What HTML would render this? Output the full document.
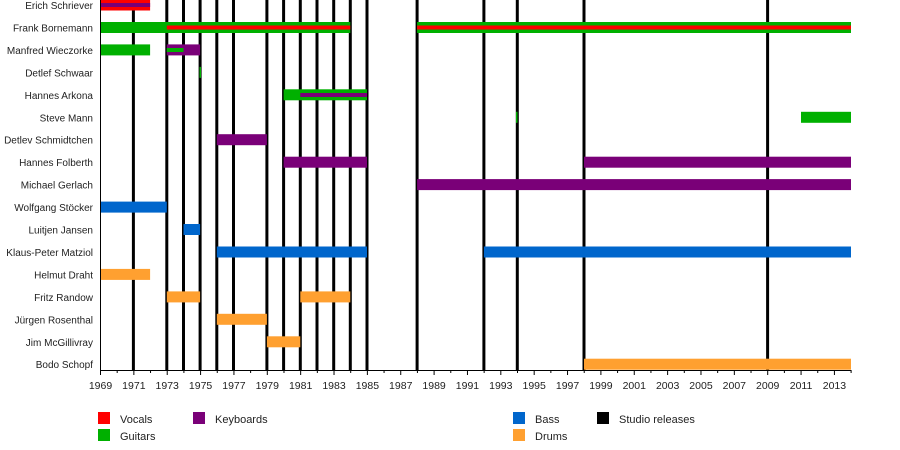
<!DOCTYPE html>
<html><head><meta charset="utf-8"><style>body{margin:0;background:#fff}svg{display:block;font-family:"Liberation Sans",sans-serif}</style></head><body>
<svg width="900" height="450" xmlns="http://www.w3.org/2000/svg">
<g stroke="#000" stroke-width="3">
<line x1="133.4" y1="0" x2="133.4" y2="370"/><line x1="166.8" y1="0" x2="166.8" y2="370"/><line x1="183.5" y1="0" x2="183.5" y2="370"/><line x1="200.1" y1="0" x2="200.1" y2="370"/><line x1="216.8" y1="0" x2="216.8" y2="370"/><line x1="233.5" y1="0" x2="233.5" y2="370"/><line x1="266.9" y1="0" x2="266.9" y2="370"/><line x1="283.6" y1="0" x2="283.6" y2="370"/><line x1="300.3" y1="0" x2="300.3" y2="370"/><line x1="317" y1="0" x2="317" y2="370"/><line x1="333.7" y1="0" x2="333.7" y2="370"/><line x1="350.3" y1="0" x2="350.3" y2="370"/><line x1="367" y1="0" x2="367" y2="370"/><line x1="417.1" y1="0" x2="417.1" y2="370"/><line x1="483.9" y1="0" x2="483.9" y2="370"/><line x1="517.3" y1="0" x2="517.3" y2="370"/><line x1="584" y1="0" x2="584" y2="370"/><line x1="767.6" y1="0" x2="767.6" y2="370"/>
</g>
<rect x="100" y="-0.5" width="50.1" height="11" fill="#f00"/><rect x="100" y="3" width="50.1" height="4" fill="#7a0078"/>
<rect x="100" y="22" width="250.3" height="11" fill="#00b000"/><rect x="166.8" y="25.5" width="183.5" height="4" fill="#f00"/>
<rect x="417.1" y="22" width="433.9" height="11" fill="#00b000"/><rect x="417.1" y="25.5" width="433.9" height="4" fill="#f00"/>
<rect x="100" y="44.4" width="50.1" height="11" fill="#00b000"/><rect x="166.8" y="44.4" width="33.3" height="11" fill="#7a0078"/><rect x="166.8" y="48" width="16.7" height="4" fill="#00b000"/>
<rect x="199.5" y="66.9" width="1.5" height="11" fill="#00b000"/>
<rect x="283.6" y="89.3" width="83.4" height="11" fill="#00b000"/><rect x="300.3" y="93" width="66.7" height="4" fill="#7a0078"/>
<rect x="516" y="111.8" width="1.5" height="11" fill="#00b000"/><rect x="801" y="111.8" width="50" height="11" fill="#00b000"/>
<rect x="216.8" y="134.2" width="50.1" height="11" fill="#7a0078"/>
<rect x="283.6" y="156.7" width="83.4" height="11" fill="#7a0078"/><rect x="584" y="156.7" width="267" height="11" fill="#7a0078"/>
<rect x="417.1" y="179.1" width="433.9" height="11" fill="#7a0078"/>
<rect x="100" y="201.6" width="66.8" height="11" fill="#0066cc"/>
<rect x="183.5" y="224" width="16.6" height="11" fill="#0066cc"/>
<rect x="216.8" y="246.5" width="150.2" height="11" fill="#0066cc"/><rect x="483.9" y="246.5" width="367.1" height="11" fill="#0066cc"/>
<rect x="100" y="268.9" width="50.1" height="11" fill="#ffa030"/>
<rect x="166.8" y="291.4" width="33.3" height="11" fill="#ffa030"/><rect x="300.3" y="291.4" width="50" height="11" fill="#ffa030"/>
<rect x="216.8" y="313.8" width="50.1" height="11" fill="#ffa030"/>
<rect x="266.9" y="336.3" width="33.4" height="11" fill="#ffa030"/>
<rect x="584" y="358.7" width="267" height="11" fill="#ffa030"/>
<line x1="100.5" y1="0" x2="100.5" y2="371" stroke="#000"/>
<line x1="100" y1="370.5" x2="851" y2="370.5" stroke="#000"/>
<g stroke="#000" id="ticks"></g>
<g font-size="10" fill="#222" text-anchor="end">
<text x="93" y="9">Erich Schriever</text><text x="93" y="31.5">Frank Bornemann</text><text x="93" y="54">Manfred Wieczorke</text><text x="93" y="76.4">Detlef Schwaar</text><text x="93" y="98.8">Hannes Arkona</text><text x="93" y="121.3">Steve Mann</text><text x="93" y="143.7">Detlev Schmidtchen</text><text x="93" y="166.2">Hannes Folberth</text><text x="93" y="188.6">Michael Gerlach</text><text x="93" y="211.1">Wolfgang Stöcker</text><text x="93" y="233.5">Luitjen Jansen</text><text x="93" y="256">Klaus-Peter Matziol</text><text x="93" y="278.4">Helmut Draht</text><text x="93" y="300.9">Fritz Randow</text><text x="93" y="323.3">Jürgen Rosenthal</text><text x="93" y="345.8">Jim McGillivray</text><text x="93" y="368.2">Bodo Schopf</text>
</g>
<g font-size="10.5" fill="#222" text-anchor="middle" id="yl"></g>
<g font-size="11" fill="#222">
<rect x="98" y="412" width="12" height="12" fill="#f00"/><text x="120" y="423">Vocals</text>
<rect x="98" y="429" width="12" height="12" fill="#00b000"/><text x="120" y="440">Guitars</text>
<rect x="193" y="412" width="12" height="12" fill="#7a0078"/><text x="215" y="423">Keyboards</text>
<rect x="513" y="412" width="12" height="12" fill="#0066cc"/><text x="535" y="423">Bass</text>
<rect x="513" y="429" width="12" height="12" fill="#ffa030"/><text x="535" y="440">Drums</text>
<rect x="597" y="412" width="12" height="12" fill="#000"/><text x="619" y="423">Studio releases</text>
</g>
<script>
var t=document.getElementById('ticks'),l=document.getElementById('yl'),ns='http://www.w3.org/2000/svg';
for(var y=1969;y<=2014;y++){var x=100.5+(y-1969)*16.68;var e=document.createElementNS(ns,'line');e.setAttribute('x1',x);e.setAttribute('x2',x);e.setAttribute('y1',370);e.setAttribute('y2',(y%2)?375:373);t.appendChild(e);
if(y%2){var s=document.createElementNS(ns,'text');s.setAttribute('x',x);s.setAttribute('y',389);s.textContent=y;l.appendChild(s);}}
</script>
</svg>
</body></html>
